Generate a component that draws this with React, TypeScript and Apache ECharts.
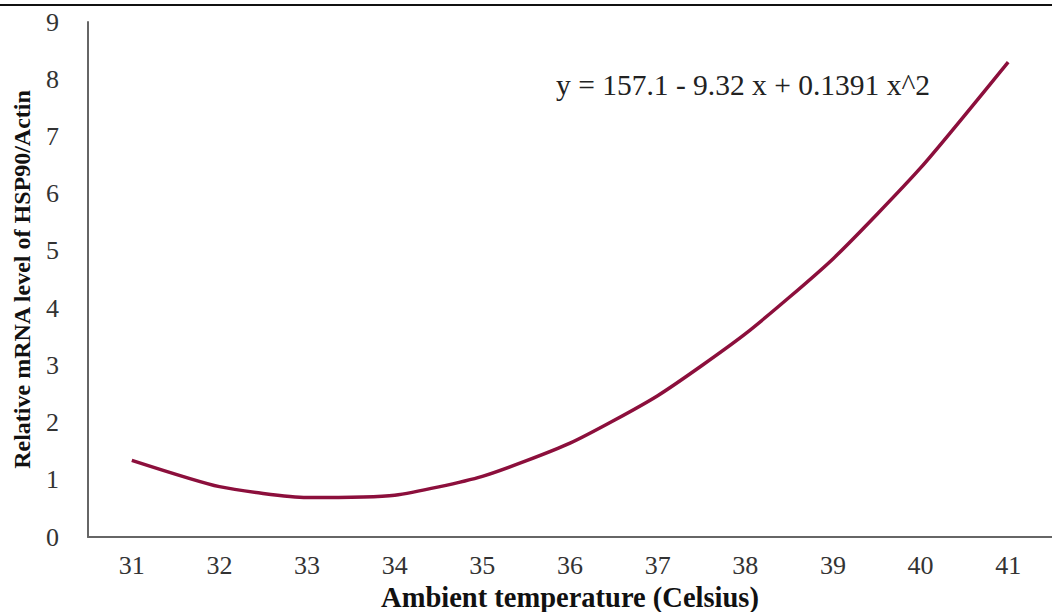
import React, { useEffect, useRef } from "react";
import * as echarts from "echarts";

const categories = ["31", "32", "33", "34", "35", "36", "37", "38", "39", "40", "41"];
const values = [1.34, 0.88, 0.69, 0.73, 1.06, 1.64, 2.47, 3.55, 4.86, 6.45, 8.3];
const yTicks = [0, 1, 2, 3, 4, 5, 6, 7, 8, 9];
const equation = "y = 157.1 - 9.32 x + 0.1391 x^2";

export default function App() {
  const ref = useRef<HTMLDivElement>(null);
  useEffect(() => {
    const chart = echarts.init(ref.current!, undefined, { renderer: "svg" });
    const serif = "'Liberation Serif', 'Times New Roman', serif";
    chart.setOption({
      animation: false,
      backgroundColor: "#ffffff",
      grid: { left: 88, right: 0, top: 22, bottom: 75, outerBoundsMode: "none", containLabel: false },
      xAxis: {
        type: "category",
        data: categories,
        boundaryGap: true,
        axisLine: { lineStyle: { color: "#666", width: 2 } },
        axisTick: { show: false },
        axisLabel: { color: "#333", fontFamily: serif, fontSize: 26, margin: 15 },
        name: "Ambient temperature (Celsius)",
        nameLocation: "middle",
        nameGap: 44,
        nameTextStyle: { color: "#111", fontFamily: serif, fontSize: 28.5, fontWeight: "bold" },
      },
      yAxis: {
        type: "value",
        min: yTicks[0],
        max: yTicks[yTicks.length - 1],
        interval: 1,
        splitLine: { show: false },
        axisLine: { show: true, lineStyle: { color: "#666", width: 2 } },
        axisTick: { show: false },
        axisLabel: { color: "#333", fontFamily: serif, fontSize: 26, margin: 29 },
        name: "Relative mRNA level of HSP90/Actin",
        nameLocation: "middle",
        nameGap: 54,
        nameTextStyle: { color: "#111", fontFamily: serif, fontSize: 24, fontWeight: "bold" },
      },
      graphic: [
        {
          type: "line",
          shape: { x1: 0, y1: 5, x2: 1052, y2: 5 },
          style: { stroke: "#111", lineWidth: 2 },
        },
        {
          type: "text",
          left: 556,
          top: 70,
          style: { text: equation, fill: "#222", font: `29.5px ${serif}` },
        },
      ],
      series: [
        {
          type: "line",
          data: values,
          symbol: "none",
          smooth: 0.2,
          lineStyle: { color: "#8c0f3c", width: 3.5 },
        },
      ],
    });
    return () => chart.dispose();
  }, []);
  return (
    <div
      ref={ref}
      style={{ position: "fixed", left: 0, top: 0, width: 1052, height: 612 }}
    />
  );
}
